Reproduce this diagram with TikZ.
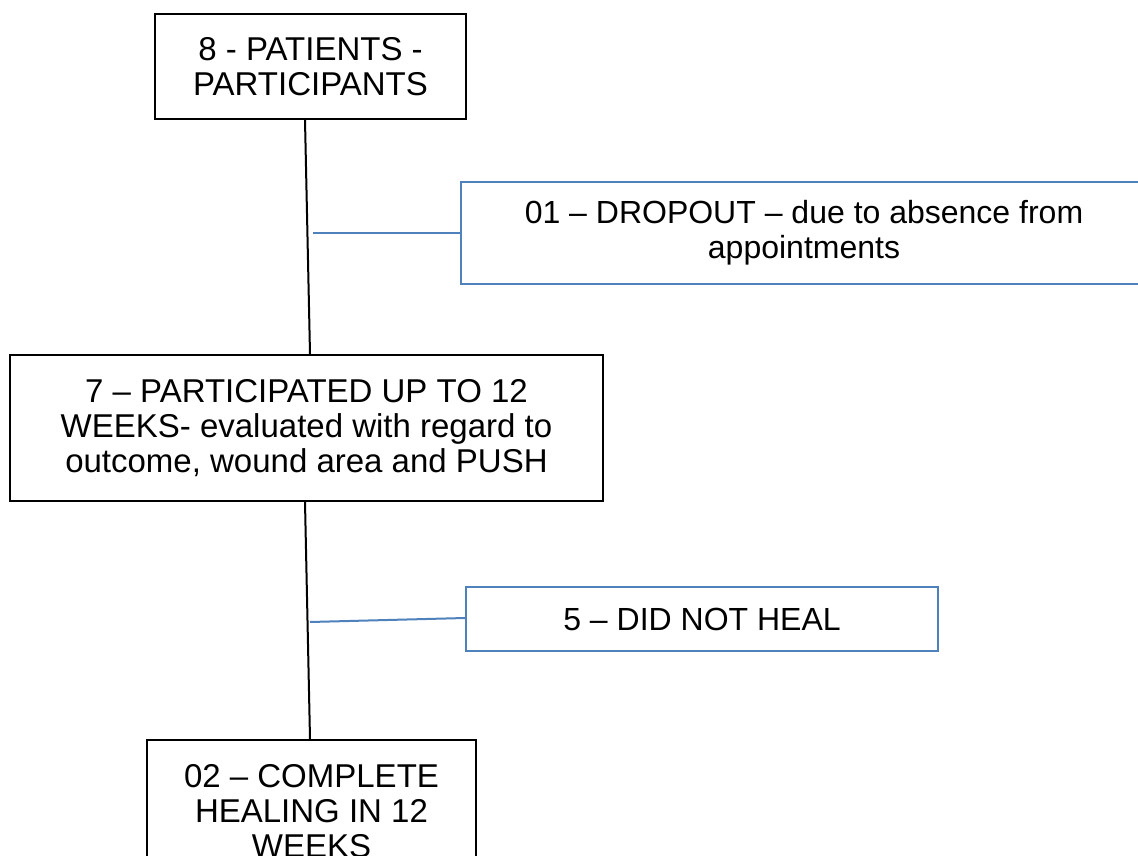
\documentclass[tikz,border=0pt]{standalone}
\usepackage{fontspec}
\setmainfont{Liberation Sans}
\definecolor{bblue}{HTML}{4F81BD}
\begin{document}
\begin{tikzpicture}[x=1pt,y=-1pt,
  blackbox/.style={draw=black, line width=2pt, align=center, inner sep=0pt, font=\fontsize{33}{35}\selectfont},
  bluebox/.style={draw=bblue, line width=2pt, align=center, inner sep=0pt, font=\fontsize{32}{35}\selectfont},
  blackline/.style={draw=black, line width=2pt},
  blueline/.style={draw=bblue, line width=2pt}]
\clip (0,0) rectangle (1138,856);
\fill[white] (0,0) rectangle (1138,856);
\node[blackbox, minimum width=311pt, minimum height=105pt] (top) at (310.5,66.5) {8 - PATIENTS -\\PARTICIPANTS};
\node[blackbox, minimum width=593pt, minimum height=146pt] (mid) at (306.5,428) {7 – PARTICIPATED UP TO 12\\WEEKS- evaluated with regard to\\outcome, wound area and PUSH};
\node[bluebox, minimum width=686pt, minimum height=102pt] (drop) at (804,233) {01 – DROPOUT – due to absence from\\appointments};
\node[bluebox, minimum width=472pt, minimum height=64pt] (noheal) at (702,619) {5 – DID NOT HEAL};
\node[blackbox, minimum width=329pt, minimum height=142pt] (heal) at (311.5,811) {02 – COMPLETE\\HEALING IN 12\\WEEKS};
\draw[blackline] ([xshift=-5.5pt]top.south) -- ([xshift=3.5pt]mid.north);
\draw[blackline] ([xshift=-1.5pt]mid.south) -- ([xshift=-1.5pt]heal.north);
\coordinate (j1) at (313,233);
\coordinate (j2) at (310,622);
\draw[blueline] (j1) -- (drop.west);
\draw[blueline] (j2) -- ([yshift=1pt]noheal.west);
\end{tikzpicture}
\end{document}
